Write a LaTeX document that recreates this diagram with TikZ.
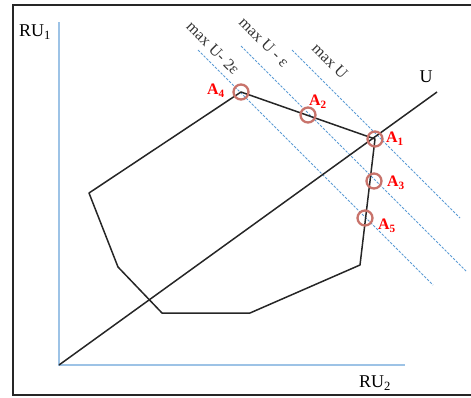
\documentclass[tikz,border=0pt]{standalone}
\usepackage{fontspec}
\setmainfont{Liberation Serif}
\usetikzlibrary{positioning}
\definecolor{axisblue}{HTML}{9DC3E6}
\definecolor{levelblue}{HTML}{5B9BD5}
\definecolor{ptring}{HTML}{C8736B}
\definecolor{ptred}{HTML}{FF0000}

\begin{document}
\begin{tikzpicture}[x=1pt, y=-1pt,
  axisline/.style={line width=2.2pt, draw=axisblue},
  levelline/.style={line width=0.9pt, draw=levelblue, dash pattern=on 2.5pt off 1.5pt},
  hullline/.style={line width=1.5pt, draw=black!85},
  ptmark/.style={circle, draw=ptring, line width=2.3pt, inner sep=0pt, minimum size=15pt},
  ptlabel/.style={font=\fontsize{16}{17}\selectfont\bfseries, text=ptred, inner sep=0pt},
  axlabel/.style={font=\fontsize{18}{20}\selectfont, inner sep=0pt},
  levellabel/.style={font=\fontsize{16}{17}\selectfont, text=black!80, rotate=-45, inner sep=0pt},
]
\useasboundingbox (0,0) rectangle (471,397);
% frame (right side cut off)
\draw[line width=2pt, black!85] (471,5) -- (13,5) -- (13,395) -- (471,395);

% axes
\coordinate (O)    at (59,365);
\coordinate (ytop) at (59,22);
\coordinate (xend) at (405,365);
\draw[axisline] (ytop) -- (O) -- (xend);
\node[axlabel] (ru1) at (35,32)  {RU\textsubscript{1}};
\node[axlabel] (ru2) at (375,383) {RU\textsubscript{2}};

% level lines  x - y = const
\coordinate (lv0s) at (292,50);  \coordinate (lv0e) at (460,218);
\coordinate (lv1s) at (241,46);  \coordinate (lv1e) at (466,271);
\coordinate (lv2s) at (198,50);  \coordinate (lv2e) at (433,285);
\foreach \k in {0,1,2} {
  \draw[levelline] (lv\k s) -- (lv\k e);
}
\node[levellabel] (lab0) at (330,61) {max U};
\node[levellabel] (lab1) at (264,42) {max U - ε};
\node[levellabel] (lab2) at (213,48) {max U- 2ε};

% feasible set
\coordinate (P1) at (360,265);
\coordinate (P2) at (250,313);
\coordinate (P3) at (162,313);
\coordinate (P4) at (118,267);
\coordinate (P5) at (89,193);
\coordinate (A4c) at (241,92);
\coordinate (A1c) at (375,139);
\draw[hullline, line join=round] (A4c) -- (A1c) -- (P1) -- (P2) -- (P3) -- (P4) -- (P5) -- cycle;

% U direction
\coordinate (Uend) at (437,92);
\draw[hullline] (O) -- (Uend);
\node[axlabel] (ulab) at (426,77) {U};

% points
\node[ptmark] (A4) at (A4c) {};
\node[ptmark] (A2) at (308,115) {};
\node[ptmark] (A1) at (A1c) {};
\node[ptmark] (A3) at (374,181) {};
\node[ptmark] (A5) at (365,218) {};
\node[ptlabel] (lA4) at (216,91)  {A\textsubscript{4}};
\node[ptlabel] (lA2) at (318,102) {A\textsubscript{2}};
\node[ptlabel] (lA1) at (395,139) {A\textsubscript{1}};
\node[ptlabel] (lA3) at (396,183) {A\textsubscript{3}};
\node[ptlabel] (lA5) at (387,226) {A\textsubscript{5}};
\end{tikzpicture}
\end{document}
